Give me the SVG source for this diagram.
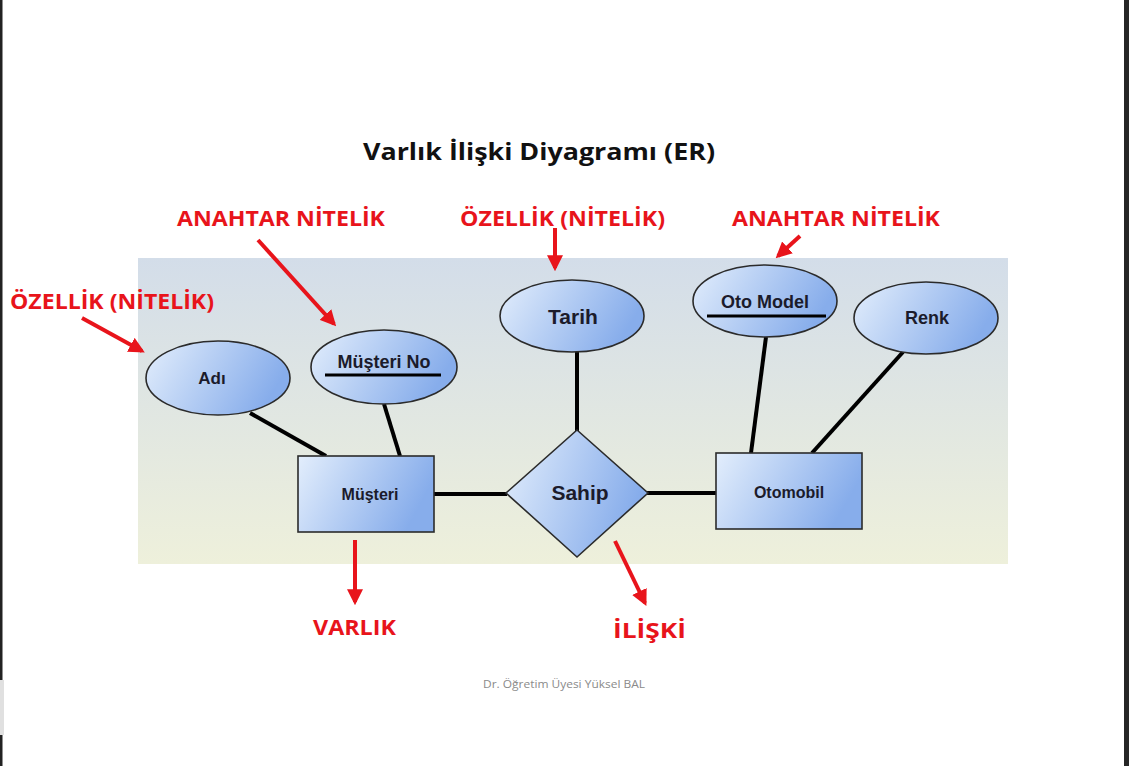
<svg xmlns="http://www.w3.org/2000/svg" width="1129" height="766" viewBox="0 0 1129 766">
<style>
.red{font-family:"Open Sans","Liberation Sans",sans-serif;font-weight:bold;fill:#e8141b;font-size:22px}
.node{fill:url(#ng);stroke:#2b2b2b;stroke-width:1.6}
.nt{font-family:"Liberation Sans",Arial,sans-serif;font-weight:bold;fill:#1b1b2b;text-anchor:middle}
.conn line{stroke:#000;stroke-width:4}
.arr line{stroke:#e8141b;stroke-width:4}
.ul{stroke:#000;stroke-width:3}
</style>
<defs>
<linearGradient id="ng" x1="0" y1="0" x2="1" y2="0.3">
<stop offset="0" stop-color="#e3eefc"/>
<stop offset="1" stop-color="#87adeb"/>
</linearGradient>
<linearGradient id="bg" x1="0" y1="0" x2="0" y2="1">
<stop offset="0" stop-color="#d3dde9"/>
<stop offset="1" stop-color="#eef0db"/>
</linearGradient>
<marker id="ah" viewBox="0 0 10 10" refX="8" refY="5" markerWidth="4" markerHeight="4" orient="auto" markerUnits="strokeWidth">
<path d="M0,0 L10,5 L0,10 z" fill="#e8141b"/>
</marker>
</defs>
<rect x="0" y="0" width="1129" height="766" fill="#ffffff"/>
<rect x="0" y="0" width="2.5" height="766" fill="#222"/>
<rect x="1124" y="0" width="5" height="766" fill="#262626"/>
<rect x="0" y="680" width="4" height="55" fill="#e0e0e0"/>

<text x="539" y="160" text-anchor="middle" font-family="Open Sans, Liberation Sans, sans-serif" font-weight="bold" font-size="23" fill="#111" textLength="352" lengthAdjust="spacingAndGlyphs">Varlık İlişki Diyagramı (ER)</text>

<rect x="138" y="258" width="870" height="306" fill="url(#bg)"/>

<g class="conn" id="connectors">
<line x1="250" y1="413" x2="326" y2="456"/>
<line x1="384" y1="404" x2="400" y2="456"/>
<line x1="434" y1="494" x2="507" y2="494"/>
<line x1="577" y1="352" x2="577" y2="431"/>
<line x1="647" y1="493" x2="716" y2="493"/>
<line x1="766" y1="337" x2="751" y2="453"/>
<line x1="903" y1="352" x2="812" y2="453"/>
</g>

<g id="adi"><ellipse class="node" cx="218" cy="378" rx="72" ry="37"/><text class="nt" x="212" y="384" font-size="17">Adı</text></g>
<g id="musteri-no"><ellipse class="node" cx="384" cy="367" rx="73" ry="37"/><text class="nt" x="384" y="368" font-size="18">Müşteri No</text><line class="ul" x1="325" y1="375" x2="441" y2="375"/></g>
<g id="tarih"><ellipse class="node" cx="572" cy="316" rx="72" ry="36"/><text class="nt" x="573" y="324" font-size="21">Tarih</text></g>
<g id="oto-model"><ellipse class="node" cx="765" cy="301" rx="72" ry="36"/><text class="nt" x="765" y="308" font-size="18">Oto Model</text><line class="ul" x1="707" y1="316" x2="826" y2="316"/></g>
<g id="renk"><ellipse class="node" cx="926" cy="318" rx="72" ry="36"/><text class="nt" x="927" y="324" font-size="18">Renk</text></g>
<g id="musteri"><rect class="node" x="298" y="456" width="136" height="76"/><text class="nt" x="370" y="500" font-size="16">Müşteri</text></g>
<g id="sahip"><polygon class="node" points="577,430 648,493 577,557 506,493"/><text class="nt" x="580" y="500" font-size="21">Sahip</text></g>
<g id="otomobil"><rect class="node" x="716" y="453" width="146" height="76"/><text class="nt" x="789" y="498" font-size="16">Otomobil</text></g>

<g class="arr" id="arrows">
<line x1="82" y1="318" x2="142" y2="351" marker-end="url(#ah)"/>
<line x1="258" y1="240" x2="334" y2="324" marker-end="url(#ah)"/>
<line x1="555" y1="228" x2="555" y2="268" marker-end="url(#ah)"/>
<line x1="800" y1="236" x2="778" y2="256" marker-end="url(#ah)"/>
<line x1="355" y1="540" x2="355" y2="602" marker-end="url(#ah)"/>
<line x1="615" y1="541" x2="645" y2="603" marker-end="url(#ah)"/>
</g>

<g id="labels">
<text class="red" x="177" y="226" textLength="208" lengthAdjust="spacingAndGlyphs">ANAHTAR NİTELİK</text>
<text class="red" x="10" y="309" textLength="204" lengthAdjust="spacingAndGlyphs">ÖZELLİK (NİTELİK)</text>
<text class="red" x="460" y="226" textLength="205" lengthAdjust="spacingAndGlyphs">ÖZELLİK (NİTELİK)</text>
<text class="red" x="732" y="226" textLength="208" lengthAdjust="spacingAndGlyphs">ANAHTAR NİTELİK</text>
<text class="red" x="313" y="635" textLength="83" lengthAdjust="spacingAndGlyphs">VARLIK</text>
<text class="red" x="613" y="638" textLength="73" lengthAdjust="spacingAndGlyphs">İLİŞKİ</text>
</g>
<text x="564" y="688" text-anchor="middle" font-family="Open Sans, Liberation Sans, sans-serif" font-size="11" fill="#8a8a8a" textLength="162" lengthAdjust="spacingAndGlyphs">Dr. Öğretim Üyesi Yüksel BAL</text>
</svg>
